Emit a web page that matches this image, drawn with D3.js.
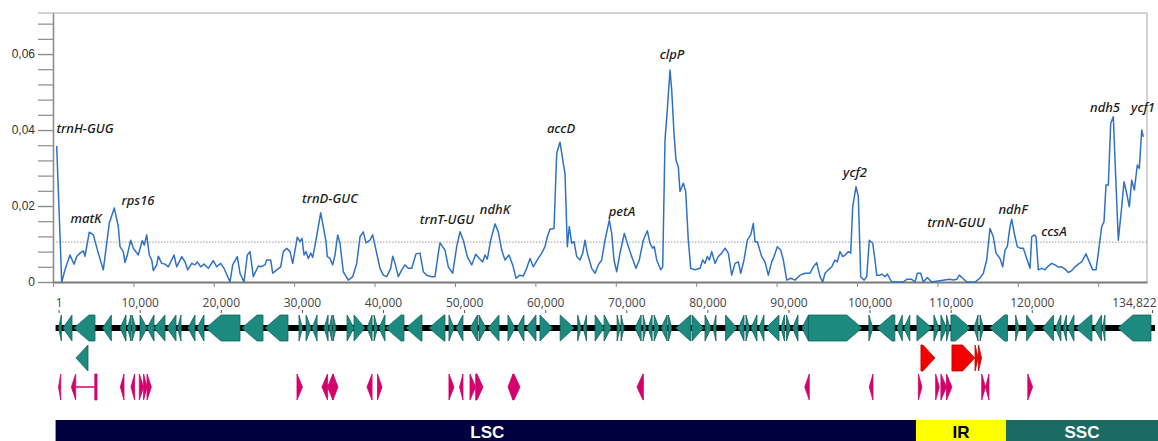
<!DOCTYPE html>
<html>
<head>
<meta charset="utf-8">
<script src="https://cdn.jsdelivr.net/npm/d3@7"></script>
<style>
body{margin:0;background:#fff;}
svg{display:block;}
</style>
</head>
<body>
<div id="chart"></div>
<script>
// sliding window midpoints (bp) and nucleotide diversity values
var windowPos = [
    460,1082,1493,2114,2612,2948,3358,3769,3980,4515,
    5013,5634,6256,7003,7624,8122,8333,8744,8955,9241,
    9664,9988,10610,11107,11356,11654,11978,12276,12475,12898,
    13097,13520,13931,14341,15050,15386,16008,16418,16754,17252,
    17662,17948,18371,18781,19316,19938,20361,20859,21269,22015,
    22351,22923,23259,23757,24167,24503,24913,25535,25834,26369,
    26580,27078,27326,27824,28321,28645,29068,29478,29814,30386,
    30722,30971,31219,31468,31754,32053,32302,32712,32998,33297,
    33620,33956,34118,34453,34789,35075,35411,35697,36108,36730,
    37277,37775,38185,38595,38931,39428,39764,40175,40672,41083,
    41506,42003,42252,42538,42948,43372,43782,44192,44615,45150,
    45647,46058,46481,47103,47513,47924,48135,48757,49167,49713,
    50211,50623,51033,51531,52078,52576,53023,53446,53732,54018,
    54441,54976,55386,55809,56220,56717,57178,57588,58085,58496,
    58919,59329,59740,60237,60785,61195,61482,61817,62314,62650,
    63061,63471,63683,63969,64218,64515,64802,65138,65548,65884,
    66170,66456,67004,67414,67824,68247,68658,69193,69491,69777,
    70113,70523,71059,71432,71979,72514,72925,73422,73920,74255,
    74591,74790,75088,75586,75834,76121,76407,76742,76954,77240,
    77489,77775,77986,78397,78694,79018,79317,79852,80474,80810,
    81096,81382,81631,81929,82340,82750,83173,83583,83994,84417,
    84827,85238,85536,85947,86357,86780,87104,87315,87601,88149,
    88559,88969,89392,89678,90089,90511,90835,91258,91756,92290,
    92912,93534,94156,94567,94989,95400,95736,96021,96432,96855,
    97265,97551,97887,98223,98509,98919,99218,99466,99877,100163,
    100462,100872,101208,101533,101955,102240,102453,102862,103074,103484,
    103771,104318,105760,106183,106805,107216,107502,107925,108250,108747,
    109294,111482,111980,112402,112726,113149,113646,114678,115300,115712,
    116134,116544,116955,117290,117788,118124,118410,118696,119032,119243,
    119654,119940,120275,120686,121109,121519,121731,122054,122266,122552,
    122975,123385,123796,124218,124629,125039,125462,125873,126283,126706,
    127116,127527,127950,128485,128895,129318,129728,130015,130438,130723,
    130972,131258,131556,131880,132092,132502,132925,133211,133547,133870,
    134169,134493,134866,135115,135413,135612
];
var piValues = [
    .0358,0,.0032,.0071,.0047,.0067,.0076,.0082,.0068,.0131,
    .0124,.0076,.0032,.0155,.0195,.0146,.0093,.008,.0051,.0071,
    .011,.0089,.0071,.0109,.0097,.0124,.0071,.0058,.003,.0045,
    .0068,.0049,.0047,.004,.0071,.004,.0067,.0053,.0032,.0049,
    .0045,.0053,.004,.0047,.0036,.0056,.004,.0049,.0036,0,
    .0045,.0067,.0023,0,.0071,.008,.0014,.0042,.004,.0045,
    .0058,.0058,.0023,.0032,.004,.008,.0089,.008,.0049,.0118,
    .0106,.0115,.0071,.008,.0062,.0076,.0065,.011,.0146,.0182,
    .0146,.0106,.0067,.0062,.0045,.0071,.0124,.0102,.0027,.0005,
    .0014,.0049,.0119,.0132,.0103,.011,.0124,.0084,.0036,.0018,
    .0014,.0036,.0068,.0049,.0014,.0032,.0045,.0036,.0036,.0074,
    .0076,.0027,.0018,.0014,.0014,.0076,.0103,.0084,.004,.0023,
    .0093,.0132,.011,.0067,.0045,.0073,.0062,.0053,.0071,.006,
    .011,.0153,.0132,.0084,.0058,.0071,.0045,.001,.0018,.0016,
    .0036,.0062,.004,.0058,.0076,.0093,.0119,.0139,.0141,.0339,
    .0368,.0312,.0286,.0093,.0146,.0102,.0106,.0067,.0058,.0076,
    .011,.0076,.0036,.0023,.0045,.0058,.011,.0163,.0128,.0058,
    .0027,.0076,.0128,.0102,.0067,.0036,.0058,.011,.0135,.0102,
    .0089,.0093,.0058,.0032,.004,.0374,.0453,.0558,.0505,.0391,
    .0321,.0303,.0238,.026,.0238,.011,.0036,.0032,.0036,.0058,
    .0049,.0067,.0058,.008,.0049,.0067,.0076,.0089,.0076,.0018,
    .0049,.0053,.0023,.0058,.011,.0124,.0154,.0106,.0106,.0067,
    .0053,.0018,.0053,.0067,.0093,.0084,.0058,.0005,.001,.0005,
    .0018,.0023,.0023,.004,.0051,.0014,0,.0023,.0032,.004,
    .0058,.0053,.008,.0067,.0071,.008,.0076,.0198,.0251,.0225,
    .0014,.0005,.0014,.011,.0102,.0058,.0018,.0018,.0021,.0014,
    .0021,0,0,.0007,.0007,0,.0023,.0023,0,.0012,
    0,.0007,.0005,.0007,.0018,.001,0,0,.001,.0023,
    .0058,.0141,.0119,.0076,.0062,.004,.0084,.0093,.0146,.0165,
    .0119,.0093,.0089,.0089,.0062,.0036,.0119,.0124,.0119,.0032,
    .0036,.0032,.0042,.0049,.0045,.0039,.004,.0034,.0025,.003,
    .004,.0047,.0053,.0074,.0053,.0032,.0032,.0076,.0146,.0159,
    .0255,.0255,.0418,.0435,.0321,.011,.0198,.0264,.0233,.0198,
    .0268,.0242,.0308,.0299,.04,.0382
];
var piThreshold = 0.0105;

// hot-spot labels: name, position (bp), label baseline (Pi units)
var hotNames = ['trnH-GUG','matK','rps16','trnD-GUC','trnT-UGU','ndhK','accD','petA','clpP','ycf2','trnN-GUU','ndhF','ccsA','ndh5','ycf1'];
var hotPos   = [3980,4105,10572,34453,49006,54976,63185,70772,76991,99753,112315,119405,124504,130848,135575];
var hotPi    = [.0392,.0155,.0203,.0208,.0153,.0179,.0392,.0174,.0587,.0276,.0145,.0179,.0121,.0447,.0447];

var yMajor = [0,0.02,0.04,0.06];
var yMajorText = ['0','0,02','0,04','0,06'];
var yMinorStep = 0.004;
var yMax = 0.0708;
var plotMaxPos = 136070;
var plotTickStep = 10000;

// genome map
var genomeLength = 134822;
var mapTicks = [1,10000,20000,30000,40000,50000,60000,70000,80000,90000,100000,110000,120000,134822];

// [start, end, strand]
var genesMain = [
    [1,345,-1],[543,1652,-1],[1899,4488,-1],[5413,6510,-1],[7571,8311,-1],[8495,8927,-1],[9050,9544,1],
    [10037,10900,1],[10900,11764,-1],[11764,13120,-1],[13367,14476,-1],[14661,15093,-1],[15955,16818,-1],
    [17065,17928,-1],[18175,22367,-1],[22614,25203,-1],[25450,28286,-1],[29642,30073,1],[30516,31133,1],
    [31256,31873,-1],[32736,33229,-1],[33352,33722,-1],[33845,34215,1],[35571,36434,1],[36434,37790,1],
    [38037,38653,-1],[38899,39331,1],[39504,40244,-1],[40367,42586,-1],[42833,44806,-1],[45669,47642,-1],
    [48135,48752,1],[48999,49862,-1],[50725,51650,-1],[51835,52698,1],[52945,54301,-1],[55411,56274,1],
    [56521,57384,-1],[57630,58863,-1],[59356,60898,1],[61849,63575,1],[64007,64438,1],[64685,65092,-1],
    [66154,67264,1],[67264,68127,1],[68867,69250,1],[69350,69730,1],[71087,71827,-1],[72073,72443,1],
    [72690,73183,-1],[73430,74046,1],[74293,75033,-1],[75200,75619,1],[76132,77915,-1],[78101,79519,1],
    [79704,80444,1],[80690,81060,-1],[82241,83647,1],[83832,84510,-1],[84757,85188,1],[85373,86113,-1],
    [86360,86977,-1],[87223,88826,-1],[89073,89504,-1],[89751,90244,1],[90491,91169,-1],[91663,92465,-1],
    [92465,99049,1],[99912,100405,1],[100898,103117,-1],[103364,104042,-1],[104227,104967,-1],
    [105836,107686,1],[107932,108549,1],[108795,109486,1],[109486,109905,1],[110028,112432,1],
    [112876,113369,-1],[113616,114048,1],[114788,117007,-1],[118005,118436,1],[119361,120471,1],
    [121327,122683,-1],[122917,123595,-1],[123842,124273,-1],[124458,125198,-1],[125445,127418,-1],
    [127665,128602,-1],[128725,129021,-1],[130627,134696,-1]
];
var genesSecond = [[2146,3626,-1]];
var genesRed = [[106330,108056,1],[110152,112960,1],[113000,113400,1],[113430,113800,1]];
var genesPink = [
    [1,259,-1],[1578,2108,-1],[4538,4661,0],[7620,8064,-1],[8927,9371,-1],[9950,10481,1],[10481,10900,1],
    [10900,11442,1],[29395,30073,1],[32477,33155,-1],[33155,33833,-1],[33833,34450,1],[38025,38653,-1],
    [39320,39875,1],[48135,48752,1],[49443,49862,-1],[50725,51430,1],[51430,52329,1],[55411,56027,-1],
    [56027,56890,1],[71317,72106,-1],[92008,92563,-1],[99961,100417,-1],[106015,106459,1],[108146,108602,1],
    [108795,109486,1],[109486,110152,1],[113825,114290,1],[114290,114720,-1],[119508,120100,1]
];
var pinkIntrons = [[2108,4538]];

var regionNames = ['LSC','IR','SSC'];
var regionStart = [1,105718,116815];
var regionEnd   = [105718,116815,134822];
var regionColors = ['#00003f','#ffff00','#1b6b63'];
var regionText   = ['#ffffff','#000000','#ffffff'];

// ---------------------------------------------------------------
var W = 1158, H = 441;
var plot = {left:53,right:1147,top:13,bottom:282};
var map = {left:58.6,right:1152,tickY:313,geneTop:315,geneH:26,row2:345,row3:374,barTop:420};

var svg = d3.select('#chart').append('svg')
    .attr('width',W).attr('height',H)
    .attr('font-family','"Liberation Sans",Arial,sans-serif');

var xPlot = d3.scaleLinear().domain([0,plotMaxPos]).range([plot.left,plot.right]);
var yPlot = d3.scaleLinear().domain([0,yMax]).range([plot.bottom,plot.top]);
var xMap = d3.scaleLinear().domain([1,genomeLength]).range([map.left,map.right]);

// frame
svg.append('line')
    .attr('x1',plot.left-15).attr('x2',plot.right)
    .attr('y1',plot.top).attr('y2',plot.top)
    .attr('stroke','#a6a6a6').attr('stroke-width',1);
svg.append('line')
    .attr('x1',plot.right).attr('x2',plot.right)
    .attr('y1',plot.top).attr('y2',plot.bottom)
    .attr('stroke','#a6a6a6').attr('stroke-width',1);

// y axis
var nMinor = Math.floor(yMax/yMinorStep+1e-9);
var yMinor = d3.range(0,nMinor+1).map(function(i){return +(i*yMinorStep).toFixed(4);});
var yAxisMinor = svg.append('g')
    .attr('transform','translate('+plot.left+',0)')
    .call(d3.axisLeft(yPlot).tickValues(yMinor).tickSize(15).tickSizeOuter(0).tickFormat(''));
var yAxisMajor = svg.append('g')
    .attr('transform','translate('+plot.left+',0)')
    .call(d3.axisLeft(yPlot).tickValues(yMajor).tickSize(15).tickSizeOuter(0).tickPadding(3)
        .tickFormat(function(d,i){return yMajorText[i];}));
svg.selectAll('.domain').attr('stroke','#8c8c8c').attr('stroke-width',1.3);
svg.selectAll('.tick line').attr('stroke','#8c8c8c').attr('stroke-width',1.2);
yAxisMajor.selectAll('text')
    .attr('font-size','12px').attr('fill','#333')
    .attr('font-family','"Liberation Sans",Arial,sans-serif');

// x axis of the plot (ticks only)
var xAxisPlot = svg.append('g')
    .attr('transform','translate(0,'+plot.bottom+')')
    .call(d3.axisBottom(xPlot).tickValues(d3.range(0,plotMaxPos,plotTickStep)).tickSize(5).tickSizeOuter(0).tickFormat(''));
xAxisPlot.select('.domain').attr('stroke','#7a7a7a').attr('stroke-width',2);
xAxisPlot.selectAll('.tick line').attr('stroke','#8c8c8c').attr('stroke-width',1);

// threshold line
svg.append('line')
    .attr('x1',plot.left).attr('x2',plot.right)
    .attr('y1',yPlot(piThreshold)).attr('y2',yPlot(piThreshold))
    .attr('stroke','#9a9a9a').attr('stroke-width',1)
    .attr('stroke-dasharray','1.5,1.5');

// Pi curve
var line = d3.line()
    .x(function(d){return xPlot(d[0]);})
    .y(function(d){return yPlot(d[1]);});
svg.append('path')
    .datum(windowPos.map(function(p,i){return [p,piValues[i]];}))
    .attr('d',line)
    .attr('fill','none')
    .attr('stroke','#2f72c4')
    .attr('stroke-width',1.5)
    .attr('stroke-linejoin','round');

// hot-spot labels
svg.append('g').selectAll('text')
    .data(hotNames)
    .enter().append('text')
    .text(function(d){return d;})
    .attr('x',function(d,i){return xPlot(hotPos[i]);})
    .attr('y',function(d,i){return yPlot(hotPi[i]);})
    .attr('text-anchor','middle')
    .attr('font-family','"Noto Sans","Open Sans",sans-serif')
    .attr('font-style','italic')
    .attr('font-weight',500)
    .attr('font-size','13px')
    .attr('fill','#1a1a1a');

// ---------------- genome map ----------------
var mapAxis = svg.append('g')
    .attr('transform','translate(0,'+map.tickY+')')
    .call(d3.axisTop(xMap).tickValues(mapTicks).tickSize(3).tickSizeOuter(0).tickPadding(3).tickFormat(d3.format(',')));
mapAxis.select('.domain').remove();
mapAxis.selectAll('.tick line').attr('stroke','#555');
mapAxis.selectAll('text')
    .attr('font-size','12px').attr('fill','#444')
    .attr('font-family','"Open Sans","Noto Sans",sans-serif');
mapAxis.selectAll('text').filter(function(d){return d===genomeLength;})
    .attr('text-anchor','end').attr('dx',4);

// backbone
svg.append('rect')
    .attr('x',xMap(1)-3).attr('y',map.geneTop+map.geneH/2-3)
    .attr('width',xMap(genomeLength)-xMap(1)+6).attr('height',6)
    .attr('fill','#000');

function arrowPath(s,e,dir,top,h,headMax){
    var x0 = xMap(s), x1 = xMap(e);
    if(x1-x0<2.2){var m=(x0+x1)/2;x0=m-1.1;x1=m+1.1;}
    var w = x1-x0;
    var head = Math.min(w,headMax);
    var ym = top+h/2, yb = top+h;
    if(dir>0){
        return 'M'+x0+','+top+'L'+(x1-head)+','+top+'L'+x1+','+ym+'L'+(x1-head)+','+yb+'L'+x0+','+yb+'Z';
    }else if(dir<0){
        return 'M'+x1+','+top+'L'+(x0+head)+','+top+'L'+x0+','+ym+'L'+(x0+head)+','+yb+'L'+x1+','+yb+'Z';
    }
    return 'M'+x0+','+top+'L'+x1+','+top+'L'+x1+','+yb+'L'+x0+','+yb+'Z';
}

function drawGenes(list,top,fill,stroke,headMax){
    svg.append('g').selectAll('path')
        .data(list)
        .enter().append('path')
        .attr('d',function(d){return arrowPath(d[0],d[1],d[2],top,map.geneH,headMax);})
        .attr('fill',fill)
        .attr('stroke',stroke)
        .attr('stroke-width',0.8)
        .attr('stroke-linejoin','round');
}

drawGenes(genesMain,map.geneTop,'#1d8a80','#12625b',15);
drawGenes(genesSecond,map.row2,'#1d8a80','#12625b',15);
drawGenes(genesRed,map.row2,'#f20000','#c80000',12);

svg.append('g').selectAll('line')
    .data(pinkIntrons)
    .enter().append('line')
    .attr('x1',function(d){return xMap(d[0]);})
    .attr('x2',function(d){return xMap(d[1]);})
    .attr('y1',map.row3+map.geneH/2).attr('y2',map.row3+map.geneH/2)
    .attr('stroke','#d4006b').attr('stroke-width',1.5);
drawGenes(genesPink,map.row3,'#d4006b','#d4006b',6);

// regions bar
var regions = svg.append('g');
regions.selectAll('rect')
    .data(regionNames)
    .enter().append('rect')
    .attr('x',function(d,i){return i===0?xMap(regionStart[i])-3:xMap(regionStart[i]);})
    .attr('y',map.barTop)
    .attr('width',function(d,i){
        var x0 = i===0?xMap(regionStart[i])-3:xMap(regionStart[i]);
        var x1 = i===regionNames.length-1?W:xMap(regionEnd[i]);
        return x1-x0;
    })
    .attr('height',H-map.barTop)
    .attr('fill',function(d,i){return regionColors[i];});
regions.selectAll('text')
    .data(regionNames)
    .enter().append('text')
    .text(function(d){return d;})
    .attr('x',function(d,i){
        var x0 = xMap(regionStart[i]);
        var x1 = i===regionNames.length-1?W:xMap(regionEnd[i]);
        return (x0+x1)/2;
    })
    .attr('y',438)
    .attr('text-anchor','middle')
    .attr('font-family','"Liberation Sans Narrow","Liberation Sans",Arial,sans-serif')
    .attr('font-weight','bold')
    .attr('font-size','17px')
    .attr('fill',function(d,i){return regionText[i];});
</script>
</body>
</html>
